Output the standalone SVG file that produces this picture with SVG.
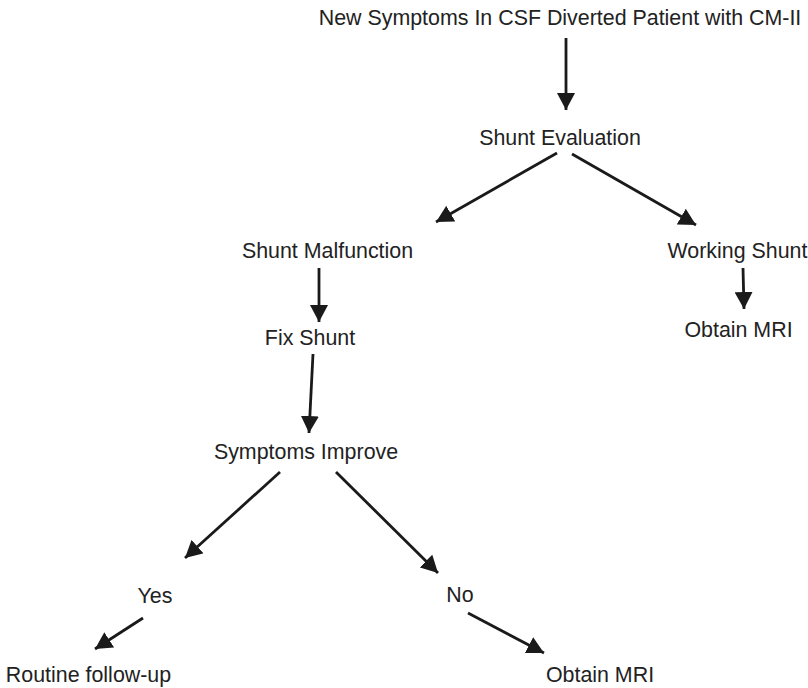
<svg xmlns="http://www.w3.org/2000/svg" width="808" height="688" viewBox="0 0 808 688">
<defs>
<style>
text{font-family:"Liberation Sans",Arial,Helvetica,sans-serif;font-size:21.4px;fill:#222;text-anchor:middle}
.c line{stroke:#1a1a1a;stroke-width:2.8;marker-end:url(#ah)}
</style>
<marker id="ah" markerUnits="userSpaceOnUse" markerWidth="18" markerHeight="18" refX="16" refY="8.5" orient="auto" viewBox="0 0 17 17">
<path d="M0,0 L16,8.5 L0,17 Z" fill="#1a1a1a"/>
</marker>
</defs>
<rect width="808" height="688" fill="#fff"/>
<g id="n-title"><text x="560" y="25">New Symptoms In CSF Diverted Patient with CM-II</text></g>
<g id="n-eval"><text x="560" y="145">Shunt Evaluation</text></g>
<g id="n-malf"><text x="327.5" y="258">Shunt Malfunction</text></g>
<g id="n-work"><text x="737.5" y="258">Working Shunt</text></g>
<g id="n-fix"><text x="310" y="345">Fix Shunt</text></g>
<g id="n-mri1"><text x="738.5" y="337">Obtain MRI</text></g>
<g id="n-impr"><text x="306" y="459">Symptoms Improve</text></g>
<g id="n-yes"><text x="155" y="603">Yes</text></g>
<g id="n-no"><text x="460" y="602">No</text></g>
<g id="n-rout"><text x="88.5" y="682">Routine follow-up</text></g>
<g id="n-mri2"><text x="600" y="682">Obtain MRI</text></g>
<g id="connectors" class="c">
<line x1="566" y1="38" x2="566" y2="110"/>
<line x1="557" y1="153" x2="436" y2="222"/>
<line x1="572" y1="154" x2="696" y2="225"/>
<line x1="319" y1="268" x2="319" y2="322"/>
<line x1="313" y1="354" x2="309" y2="433"/>
<line x1="743" y1="268" x2="744" y2="309"/>
<line x1="280" y1="472" x2="185" y2="558"/>
<line x1="336" y1="472" x2="438" y2="573"/>
<line x1="143" y1="618" x2="95" y2="649"/>
<line x1="468" y1="613" x2="544" y2="653"/>
</g>
</svg>
